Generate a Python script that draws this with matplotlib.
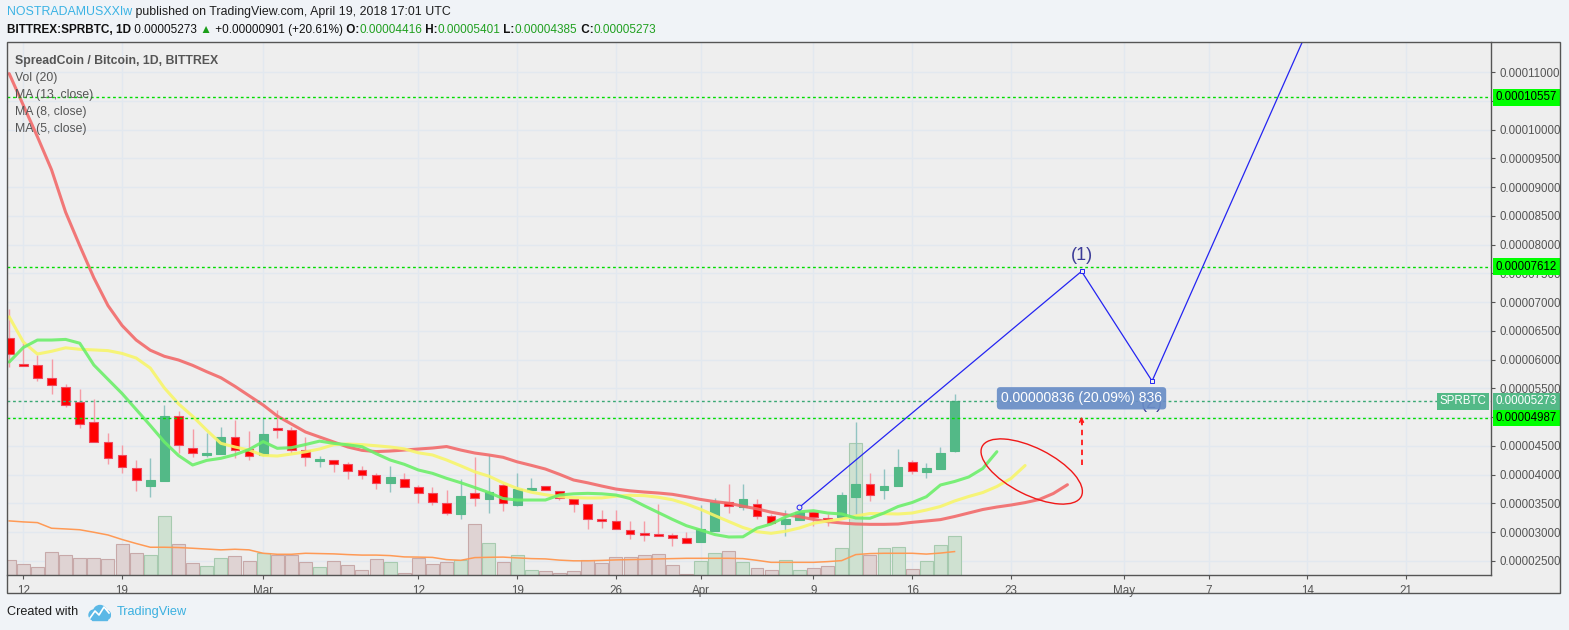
import numpy as np
import pandas as pd
import matplotlib
matplotlib.use('Agg')
import matplotlib.pyplot as plt
import matplotlib.dates as mdates
import matplotlib.transforms as mtransforms
from matplotlib.patches import Ellipse, Rectangle, Circle
from matplotlib.text import Annotation

plt.rcParams['font.family'] = ['Liberation Sans', 'DejaVu Sans']

# daily candles SPR/BTC, prices in satoshi (1e-8 BTC), first candle 2018-02-11
first_day = '2018-02-11'
opens = [6369, 5922, 5899, 5673, 5527, 5256, 4908, 4560, 4334, 4108, 3806, 3893, 5013, 4456, 4345, 4362, 4653,
         4439, 4340, 4804, 4769, 4421, 4240, 4253, 4178, 4073, 3987, 3858, 3917, 3778, 3673, 3500, 3319, 3673,
         3580, 3813, 3475, 3736, 3795, 3708, 3580, 3482, 3227, 3187, 3030, 2983, 2966, 2948, 2896, 2832, 3023,
         3517, 3430, 3493, 3274, 3145, 3214, 3343, 3244, 3267, 3614, 3830, 3736, 3806, 4213, 4049, 4101, 4416]
highs = [6878, 6282, 6079, 6009, 5569, 5487, 5313, 4717, 4513, 4253, 4282, 5209, 5105, 4792, 4717, 4832, 4948,
         4757, 5006, 5122, 4821, 4658, 4327, 4253, 4213, 4143, 4021, 4148, 4021, 3818, 3788, 3731, 3922, 4310,
         4334, 3847, 4032, 3940, 3795, 3708, 3580, 3482, 3383, 3383, 3192, 3192, 3487, 2978, 3001, 3470, 3597,
         3830, 3830, 3574, 3314, 3383, 3395, 3343, 3314, 3696, 4908, 4021, 4096, 4444, 4253, 4195, 4473, 5401]
lows = [5865, 5887, 5632, 5406, 5179, 4814, 4560, 4188, 4032, 3719, 3614, 3893, 4380, 4310, 4310, 4362, 4282,
        4253, 4322, 4640, 4380, 4153, 4136, 4039, 3927, 3922, 3743, 3701, 3778, 3500, 3470, 3296, 3227, 3458,
        3336, 3371, 3453, 3736, 3726, 3557, 3353, 3058, 3075, 3047, 2874, 2849, 2926, 2762, 2814, 2832, 3023,
        3336, 3378, 3232, 3152, 2936, 3214, 3110, 3110, 3267, 3314, 3545, 3580, 3806, 4014, 3945, 4101, 4385]
closes = [6096, 5892, 5673, 5557, 5204, 4873, 4560, 4282, 4126, 3900, 3905, 5018, 4508, 4369, 4374, 4653, 4426,
          4317, 4705, 4769, 4426, 4299, 4253, 4178, 4061, 3987, 3847, 3957, 3778, 3673, 3527, 3326, 3627, 3587,
          3696, 3500, 3743, 3753, 3726, 3597, 3482, 3227, 3187, 3047, 2960, 2954, 2926, 2891, 2814, 3053, 3522,
          3447, 3574, 3279, 3152, 3227, 3348, 3261, 3214, 3644, 3835, 3639, 3800, 4131, 4056, 4113, 4372, 5273]
volume = [15, 11, 8, 23, 20, 17, 17, 16, 31, 22, 20, 59, 31, 12, 9, 17, 19, 14, 22, 20, 20, 13, 8, 14, 10, 5,
          16, 13, 2, 17, 11, 13, 15, 51, 32, 13, 20, 5, 4, 2, 4, 15, 12, 18, 18, 20, 21, 10, 1, 14, 22, 24, 13,
          7, 5, 15, 5, 7, 9, 27, 131, 20, 27, 28, 6, 14, 30, 39]
vol_ma20 = [53.8, 52.8, 52.1, 46.5, 45.8, 45, 42.5, 39.8, 35.3, 31.3, 27.6, 27.6, 27.3, 26.6, 25.8, 25, 25.6,
            25, 21.6, 20.6, 20.6, 21.6, 21.3, 21, 20.3, 19.8, 19.8, 19.3, 18, 17.8, 17.5, 15.3, 14.6, 17.3,
            17.6, 17.8, 17, 16.3, 16, 14.8, 14.1, 14.1, 14.5, 15, 15.3, 15.6, 16, 16.3, 16.6, 16.6, 16.6, 16.6,
            16.3, 14.6, 12.6, 12.6, 12.6, 12.6, 13.3, 14.3, 20.3, 21.3, 21.6, 21.6, 21.6, 20.8, 21.8, 23.3]

# moving averages as drawn (shifted forward), also starting 2018-02-11
ma13 = [10972, 10423, 9875, 9301, 8562, 7981, 7421, 6939, 6592, 6339, 6162, 6056, 5992, 5899, 5788, 5684,
        5534, 5371, 5209, 5018, 4879, 4740, 4653, 4566, 4479, 4421, 4399, 4409, 4426, 4444, 4461, 4487, 4426,
        4374, 4340, 4300, 4221, 4160, 4096, 4004, 3905, 3856, 3800, 3748, 3717, 3696, 3679, 3656, 3614, 3567,
        3529, 3501, 3449, 3404, 3345, 3301, 3267, 3220, 3181, 3157, 3140, 3134, 3134, 3140, 3169, 3192, 3216,
        3270, 3331, 3392, 3435, 3470, 3512, 3566, 3670, 3823]
ma8 = [6743, 6305, 6096, 6143, 6204, 6178, 6167, 6155, 6106, 6026, 5852, 5505, 5230, 5014, 4771, 4543, 4479,
       4426, 4333, 4322, 4357, 4395, 4444, 4519, 4531, 4520, 4501, 4479, 4447, 4378, 4340, 4253, 4152, 4047,
       3971, 3856, 3759, 3693, 3649, 3616, 3599, 3592, 3594, 3623, 3639, 3634, 3605, 3562, 3487, 3395, 3287,
       3183, 3079, 3006, 2978, 3013, 3070, 3152, 3192, 3227, 3279, 3322, 3320, 3314, 3331, 3383, 3444, 3540,
       3618, 3687, 3792, 3931, 4157]
ma5 = [5956, 6209, 6339, 6339, 6350, 6284, 5905, 5656, 5409, 5131, 4853, 4566, 4331, 4166, 4246, 4282, 4345,
       4435, 4573, 4456, 4467, 4522, 4581, 4543, 4517, 4484, 4364, 4253, 4178, 4079, 4021, 3934, 3858, 3774,
       3687, 3583, 3557, 3557, 3557, 3644, 3665, 3673, 3665, 3644, 3583, 3458, 3340, 3221, 3110, 3035, 2957,
       2914, 2917, 3067, 3140, 3261, 3352, 3371, 3331, 3314, 3244, 3239, 3331, 3444, 3514, 3614, 3818, 3879,
       3957, 4105, 4397]

levels = [10557, 7612, 4987]
last_price = 5273

wave_dates = ['2018-04-08', '2018-04-28', '2018-05-03', '2018-05-16']
wave_prices = [3430, 7534, 5626, 12826]
measure_date = '2018-04-28'
measure_price = 5326
measure_text = '0.00000836 (20.09%) 836'
arrow_prices = [4166, 5006]
ellipse_center = ('2018-04-24 11:15', 4053)

tick_dates = ['2018-02-12', '2018-02-19', '2018-03-01', '2018-03-12', '2018-03-19', '2018-03-26', '2018-04-01',
              '2018-04-09', '2018-04-16', '2018-04-23', '2018-05-01', '2018-05-07', '2018-05-14', '2018-05-21']
tick_labels = ['12', '19', 'Mar', '12', '19', '26', 'Apr', '9', '16', '23', 'May', '7', '14', '21']
price_ticks = np.arange(2500, 11001, 500)
hidden_ticks = [5000, 10500]   # covered by the price labels in the original

W, H = 1569, 630
def fx(px):
    return px / W
def fy(py):
    return 1 - py / H

fig = plt.figure(figsize=(W / 100, H / 100), dpi=100, facecolor='#f0f3f7')
rect = [fx(7), fy(575), (1491 - 7) / W, (575 - 42) / H]

# frame background (date strip + price column)
fig.add_artist(Rectangle((fx(7), fy(593)), (1560 - 7) / W, (593 - 42) / H, transform=fig.transFigure,
                         fc='#eeeeee', ec='none', zorder=-5))

axv = fig.add_axes(rect)
axv.set_axis_off()
axv.set_ylim(0, 530)

ax = fig.add_axes(rect)
ax.set_facecolor('#eeeeee')
vtrans = mtransforms.blended_transform_factory(ax.transData, axv.transData)

x = mdates.date2num(pd.date_range(first_day, periods=len(opens), freq='D'))
o, h, l, c = map(np.array, (opens, highs, lows, closes))
up = c >= o

# volume
ax.bar(x, volume, width=0.92, bottom=0, transform=vtrans,
       color=np.where(up, '#cfe1d1', '#dfd3d3'), edgecolor=np.where(up, '#a7caaf', '#c7a9a9'),
       linewidth=0.8, zorder=1)
ax.plot(x, vol_ma20, transform=vtrans, color='#ff9a55', lw=1.1, zorder=2)

# candles
ax.vlines(x, l, h, colors=np.where(up, '#92c4c2', '#f59ca6'), lw=1, zorder=3)
ax.bar(x, np.maximum(np.abs(c - o), 22), bottom=np.minimum(o, c), width=0.62,
       color=np.where(up, '#53b987', '#ff0000'), edgecolor=np.where(up, '#53b987', '#ee4a5e'),
       linewidth=0.8, zorder=3.5)

# moving averages
for vals, col in [(ma13, '#f26a6a'), (ma8, '#f7f56a'), (ma5, '#6cee6a')]:
    mx = mdates.date2num(pd.date_range(first_day, periods=len(vals), freq='D'))
    ax.plot(mx, vals, color=col, lw=2.2, alpha=0.9, solid_capstyle='round', zorder=4)

# horizontal levels and price labels
ptrans = mtransforms.blended_transform_factory(ax.transAxes, ax.transData)
for lv in levels:
    ax.axhline(lv, color='#00dd00', lw=1, ls=(0, (2, 2)), zorder=5)
    ax.annotate(f'{lv * 1e-8:.8f}', xy=(1, lv), xycoords=ptrans, xytext=(5, 0), textcoords='offset pixels',
                ha='left', va='center', fontsize=8.3, color='black', annotation_clip=False, zorder=10,
                bbox=dict(boxstyle='square,pad=0.22', fc='#00ff00', ec='none'))
ax.axhline(last_price, color='#3aa874', lw=1, ls=(0, (2, 2)), zorder=5)
ax.annotate(f'{last_price * 1e-8:.8f}', xy=(1, last_price), xycoords=ptrans, xytext=(5, 0),
            textcoords='offset pixels', ha='left', va='center', fontsize=8.3, color='white',
            annotation_clip=False, zorder=10, bbox=dict(boxstyle='square,pad=0.22', fc='#53b987', ec='none'))
ax.annotate('SPRBTC', xy=(1, last_price), xycoords=ptrans, xytext=(-5, 0), textcoords='offset pixels',
            ha='right', va='center', fontsize=8.3, color='white', annotation_clip=False, zorder=10,
            bbox=dict(boxstyle='square,pad=0.22', fc='#53b987', ec='none'))

# wave drawing
wx = mdates.date2num(pd.to_datetime(wave_dates))
ax.plot(wx, wave_prices, color='#2424f2', lw=0.9, zorder=6)
ax.plot(wx[1:3], wave_prices[1:3], ls='none', marker='s', ms=2.6, mfc='#eeeeee', mec='#2424f2', mew=0.7, zorder=6)
ax.plot(wx[:1], wave_prices[:1], ls='none', marker='o', ms=3.5, mfc='#eeeeee', mec='#2424f2', mew=0.7, zorder=6)
ax.annotate('(1)', xy=(wx[1], wave_prices[1]), xytext=(0, 16), textcoords='offset pixels', ha='center',
            va='center', fontsize=13, color='#3b3b98', zorder=6)
ax.annotate('(2)', xy=(wx[2], wave_prices[2]), xytext=(0, -22), textcoords='offset pixels', ha='center',
            va='center', fontsize=13, color='#3b3b98', zorder=6)

mx_date = mdates.date2num(pd.Timestamp(measure_date))
ax.plot([mx_date, mx_date], [arrow_prices[0], arrow_prices[1] - 60], color='#ff1a1a', lw=1.3,
        ls=(0, (3, 2.5)), zorder=7)
ax.annotate('', xy=(mx_date, arrow_prices[1]), xytext=(mx_date, arrow_prices[1] - 120),
            arrowprops=dict(arrowstyle='->', color='#ff1a1a', lw=1.1, mutation_scale=7, shrinkA=0, shrinkB=0),
            zorder=7)
ax.text(mx_date, measure_price, measure_text, ha='center', va='center', color='white', fontsize=10, zorder=8,
        bbox=dict(boxstyle='round,pad=0.3,rounding_size=0.25', fc='#6a8ec7', ec='none', alpha=0.93))

ecx = mdates.date2num(pd.Timestamp(ellipse_center[0]))
ax.add_patch(Ellipse((0, 0), 1.11, 0.47, angle=-26.7, fill=False, ec='#f01818', lw=1.0, zorder=7,
                     transform=fig.dpi_scale_trans + mtransforms.ScaledTranslation(ecx, ellipse_center[1],
                                                                                     ax.transData)))

# axes styling
base = mdates.date2num(pd.Timestamp('2018-02-12'))
ax.set_xlim(base - 1.155, base + 104.02)
ax.set_ylim(2253, 11522)
ax.set_xticks(mdates.date2num(pd.to_datetime(tick_dates)))
ax.set_xticklabels(tick_labels)
ax.set_yticks(price_ticks)
ax.set_yticklabels(['' if v in hidden_ticks else f'{v * 1e-8:.8f}' for v in price_ticks])
ax.yaxis.tick_right()
ax.tick_params(axis='y', colors='#555555', labelsize=8.3, length=3, width=0.8, pad=3)
ax.tick_params(axis='x', colors='#555555', labelsize=8.4, length=3, width=0.8, pad=4)
ax.grid(True, color='#e2e8ef', lw=1)
ax.set_axisbelow(True)
for s in ['left', 'top']:
    ax.spines[s].set_visible(False)
for s in ['right', 'bottom']:
    ax.spines[s].set_color('#555555')
    ax.spines[s].set_linewidth(1)

fig.add_artist(Rectangle((fx(7), fy(593)), (1560 - 7) / W, (593 - 42) / H, transform=fig.transFigure,
                         fill=False, ec='#555555', lw=1, zorder=20))

# legend texts
fig.text(fx(15), fy(61), 'SpreadCoin / Bitcoin, 1D, BITTREX', fontsize=8.8, fontweight='bold',
         color='#555555', va='center')
for i, s in enumerate(['Vol (20)', 'MA (13, close)', 'MA (8, close)', 'MA (5, close)']):
    fig.text(fx(15), fy(78 + 17 * i), s, fontsize=8.8, color='#555555', va='center')


def text_row(parts, px, py, size):
    prev = fig.text(fx(px), fy(py), parts[0][0], color=parts[0][1], fontweight=parts[0][2],
                    fontsize=size, va='center')
    for s, col, wt in parts[1:]:
        prev = fig.add_artist(Annotation(s, xy=(1, 0.5), xycoords=prev, va='center', ha='left', color=col,
                                         fontweight=wt, fontsize=size))


green = '#20a020'
text_row([('NOSTRADAMUSXXIw', '#3bb3e4', 'normal'),
          (' published on TradingView.com, April 19, 2018 17:01 UTC', '#1e1e1e', 'normal')], 7, 12, 8.9)
text_row([('BITTREX:SPRBTC, 1D', '#111111', 'bold'), (' 0.00005273', '#111111', 'normal'),
          (' \u25b2', '#1a9e1a', 'normal'), (' +0.00000901 (+20.61%)', '#111111', 'normal'),
          (' O:', '#111111', 'bold'), ('0.00004416', green, 'normal'), (' H:', '#111111', 'bold'),
          ('0.00005401', green, 'normal'), (' L:', '#111111', 'bold'), ('0.00004385', green, 'normal'),
          (' C:', '#111111', 'bold'), ('0.00005273', green, 'normal')], 7, 30, 8.5)

# footer
fig.text(fx(7), fy(612), 'Created with', fontsize=9.1, color='#1e1e1e', va='center')
fig.text(fx(117), fy(612), 'TradingView', fontsize=9.2, color='#3bb0e0', va='center')
logo = fig.add_axes([fx(87), fy(622), 24 / W, 20 / H])
logo.set_axis_off()
logo.set_xlim(0, 24)
logo.set_ylim(0, 20)
for cx, cy, r in [(7, 7, 5), (13, 10, 6.5), (19, 7, 4.5)]:
    logo.add_patch(Circle((cx, cy), r, color='#5bb8e6'))
logo.add_patch(Rectangle((5, 2.5), 15, 5, color='#5bb8e6'))
logo.plot([3, 8, 12, 17, 22], [4, 11, 7, 15, 9], color='white', lw=1.2)

fig.savefig('out.png', dpi=100, facecolor=fig.get_facecolor())
